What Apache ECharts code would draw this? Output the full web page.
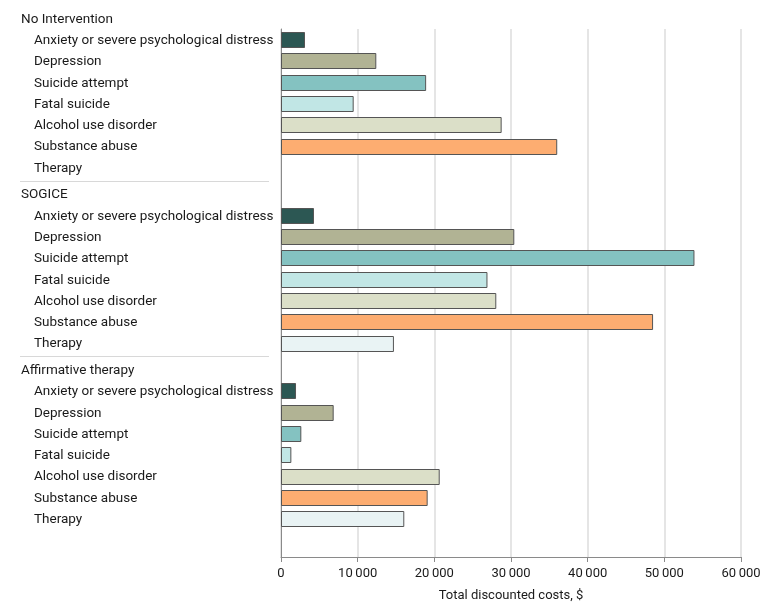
<!DOCTYPE html>
<html>
<head>
<meta charset="utf-8">
<script src="https://cdn.jsdelivr.net/npm/echarts@6/dist/echarts.min.js"></script>
<style>
  html, body { margin: 0; padding: 0; background: #fff; }
  #chart { width: 780px; height: 611px; }
</style>
</head>
<body>
<div id="chart"></div>
<script>
const groups = ['No Intervention', 'SOGICE', 'Affirmative therapy'];
const outcomes = ['Anxiety or severe psychological distress', 'Depression', 'Suicide attempt', 'Fatal suicide', 'Alcohol use disorder', 'Substance abuse', 'Therapy'];
const noIntervention = [3000, 12300, 18800, 9350, 28650, 35900, 0];
const sogice = [4170, 30300, 53800, 26800, 27950, 48400, 14600];
const affirmative = [1830, 6740, 2520, 1220, 20570, 19000, 15950];
const xTicks = [0, 10000, 20000, 30000, 40000, 50000, 60000];
const colors = ['#2c5753', '#b1b394', '#84c2c1', '#c1e6e5', '#dbdfc8', '#fdad71', '#e9f3f4'];

const groupValues = [noIntervention, sogice, affirmative];
const groupStep = 8.25;
const FAMILY = 'Roboto, "Noto Sans", sans-serif';
const FONT = '13.5px Roboto, "Noto Sans", sans-serif';

const barData = [];
const labelData = [];
const labelTexts = [];
groups.forEach((g, gi) => {
  const base = gi * groupStep;
  labelData.push([0, base, 1, gi]);
  labelTexts.push(g);
  outcomes.forEach((o, oi) => {
    labelData.push([0, base + 1 + oi, 0, gi]);
    labelTexts.push(o);
    barData.push([groupValues[gi][oi], base + 1 + oi, oi]);
  });
});

const chart = echarts.init(document.getElementById('chart'), null, { renderer: 'canvas' });
chart.setOption({
  animation: false,
  grid: { left: 281, right: 39, top: 29, bottom: 54, containLabel: false },
  xAxis: {
    type: 'value', min: xTicks[0], max: xTicks[xTicks.length - 1], interval: 10000,
    axisLine: { show: true, lineStyle: { color: '#8a8a8a', width: 1 } },
    axisTick: { show: true, length: 5, lineStyle: { color: '#8a8a8a' } },
    axisLabel: {
      margin: 10, color: '#1a1a1a', fontFamily: FAMILY, fontSize: 13,
      formatter: v => v === 0 ? '0' : String(v).replace(/\B(?=(\d{3})+(?!\d))/g, '\u2009')
    },
    splitLine: { show: true, lineStyle: { color: '#dcdcdc', width: 1.5 } },
    name: 'Total discounted costs, $', nameLocation: 'middle', nameGap: 32,
    nameTextStyle: { color: '#1a1a1a', fontFamily: FAMILY, fontSize: 13 }
  },
  yAxis: {
    type: 'value', min: 0.5, max: 25.3, inverse: true,
    axisLine: { show: true, lineStyle: { color: '#8a8a8a', width: 1 } },
    axisTick: { show: false }, axisLabel: { show: false }, splitLine: { show: false }
  },
  series: [
    {
      type: 'custom', clip: false, silent: true,
      data: labelData,
      renderItem: function (params, api) {
        const r = api.value(1), isHeader = api.value(2), gi = api.value(3);
        const p = api.coord([0, r]);
        const children = [{
          type: 'text',
          style: {
            text: labelTexts[params.dataIndex], x: p[0] - (isHeader ? 260 : 247), y: p[1] + 1,
            font: FONT, fill: '#1a1a1a', align: 'left', verticalAlign: 'middle'
          }
        }];
        if (isHeader && gi > 0) {
          const q = api.coord([0, r - (groupStep - 7) / 2]);
          children.push({
            type: 'line',
            shape: { x1: p[0] - 261, y1: Math.round(q[1]) + 0.5, x2: p[0] - 12, y2: Math.round(q[1]) + 0.5 },
            style: { stroke: '#d8d8d8', lineWidth: 1 }
          });
        }
        return { type: 'group', children: children };
      }
    },
    {
      type: 'custom', clip: false,
      data: barData,
      renderItem: function (params, api) {
        const v = api.value(0), r = api.value(1), k = api.value(2);
        if (!v) return null;
        const s = api.coord([0, r]);
        const e = api.coord([v, r]);
        const h = 15;
        return {
          type: 'rect',
          shape: { x: Math.round(s[0]) + 0.5, y: Math.round(s[1] - h / 2) + 0.5, width: e[0] - s[0], height: h },
          style: { fill: colors[k], stroke: '#555555', lineWidth: 1 }
        };
      }
    }
  ]
});
</script>
</body>
</html>
